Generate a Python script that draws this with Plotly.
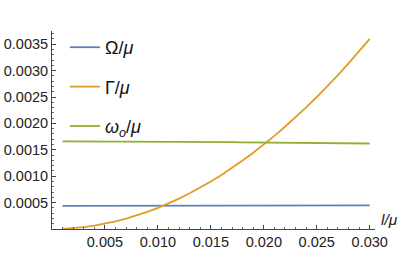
import plotly.graph_objects as go

# data
l_mu = [0.001, 0.002, 0.003, 0.004, 0.005, 0.006, 0.007, 0.008, 0.009, 0.010,
        0.011, 0.012, 0.013, 0.014, 0.015, 0.016, 0.017, 0.018, 0.019, 0.020,
        0.021, 0.022, 0.023, 0.024, 0.025, 0.026, 0.027, 0.028, 0.029, 0.030]
omega_mu = [0.000437, 0.000437, 0.000438, 0.000438, 0.000438, 0.000439, 0.000439, 0.000439, 0.000440, 0.000440,
            0.000440, 0.000441, 0.000441, 0.000441, 0.000442, 0.000442, 0.000442, 0.000443, 0.000443, 0.000443,
            0.000444, 0.000444, 0.000444, 0.000445, 0.000445, 0.000445, 0.000445, 0.000446, 0.000446, 0.000446]
gamma_mu = [0.000004, 0.000016, 0.000036, 0.000064, 0.000100, 0.000144, 0.000196, 0.000256, 0.000324, 0.000400,
            0.000484, 0.000576, 0.000676, 0.000784, 0.000900, 0.001024, 0.001156, 0.001296, 0.001444, 0.001600,
            0.001764, 0.001936, 0.002116, 0.002304, 0.002500, 0.002704, 0.002916, 0.003136, 0.003364, 0.003600]
w0_mu = [0.001658, 0.001658, 0.001657, 0.001657, 0.001656, 0.001656, 0.001655, 0.001654, 0.001653, 0.001652,
         0.001651, 0.001650, 0.001649, 0.001648, 0.001646, 0.001645, 0.001644, 0.001642, 0.001641, 0.001639,
         0.001637, 0.001635, 0.001634, 0.001632, 0.001630, 0.001628, 0.001625, 0.001623, 0.001621, 0.001619]

x_ticks = [0.005, 0.010, 0.015, 0.020, 0.025, 0.030]
x_tick_labels = ["0.005", "0.010", "0.015", "0.020", "0.025", "0.030"]
y_ticks = [0.0005, 0.0010, 0.0015, 0.0020, 0.0025, 0.0030, 0.0035]
y_tick_labels = ["0.0005", "0.0010", "0.0015", "0.0020", "0.0025", "0.0030", "0.0035"]

names = ["Ω/<i>μ</i>", "Γ/<i>μ</i>", "<i>ω<sub>o</sub></i>/<i>μ</i>"]
colors = ["#5E81B5", "#E19C24", "#8FB032"]
series = [omega_mu, gamma_mu, w0_mu]

fig = go.Figure()
for i, (nm, c, ys) in enumerate(zip(names, colors, series)):
    fig.add_trace(go.Scatter(x=l_mu, y=ys, mode="lines", name=nm,
                             line=dict(color=c, width=1.8), legendgroup=str(i)))

axis_font = dict(family="Liberation Sans, Arial", size=14.5, color="#222")
fig.update_layout(
    width=407, height=254,
    margin=dict(l=52, r=32, t=31, b=25),
    plot_bgcolor="white", paper_bgcolor="white",
    showlegend=True,
    legend=dict(x=0.04, y=1.01, xanchor="left", yanchor="top",
                bgcolor="rgba(0,0,0,0)", tracegroupgap=13, itemwidth=30,
                font=dict(family="Liberation Sans, Arial", size=18, color="#111")),
    xaxis=dict(range=[0, 0.0305], showline=True, linecolor="#444", linewidth=1,
               showgrid=False, zeroline=False, ticks="inside", ticklen=4, tickcolor="#444",
               tickvals=x_ticks, ticktext=x_tick_labels, tickfont=axis_font, automargin=False,
               minor=dict(dtick=0.001, ticks="inside", ticklen=2, tickcolor="#666", showgrid=False)),
    yaxis=dict(range=[0, 0.00375], showline=True, linecolor="#444", linewidth=1,
               showgrid=False, zeroline=False, ticks="inside", ticklen=4, tickcolor="#444",
               tickvals=y_ticks, ticktext=y_tick_labels, tickfont=axis_font, automargin=False,
               minor=dict(dtick=0.0001, ticks="inside", ticklen=2, tickcolor="#666", showgrid=False)),
)
fig.add_annotation(text="<i>l/μ</i>", xref="paper", yref="y", x=1, y=0,
                   xanchor="left", yanchor="bottom", xshift=4, yshift=-1, showarrow=False,
                   font=dict(family="Liberation Sans, Arial", size=15.5, color="#222"))
fig.write_html("out.html", config={"displayModeBar": False},
               post_script="document.body.style.margin='0';")
